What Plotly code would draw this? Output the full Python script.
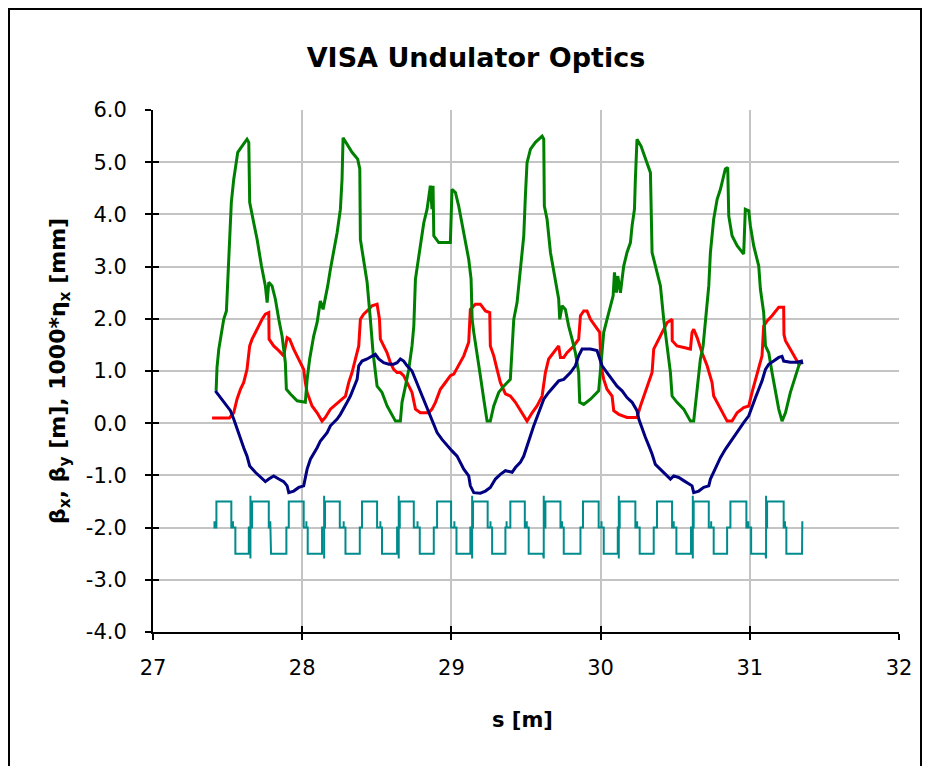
import plotly.graph_objects as go

# ---------------- data ----------------
s_green = [27.423, 27.429, 27.441, 27.458, 27.474, 27.492, 27.503, 27.512, 27.525, 27.541,
           27.552, 27.568, 27.590, 27.619, 27.630, 27.642, 27.648, 27.675, 27.698, 27.727,
           27.753, 27.765, 27.776, 27.798, 27.820, 27.843, 27.865, 27.887, 27.894, 27.921,
           27.966, 28.021, 28.033, 28.050, 28.077, 28.100, 28.111, 28.122, 28.140, 28.155,
           28.171, 28.189, 28.211, 28.234, 28.256, 28.267, 28.274, 28.301, 28.334, 28.372,
           28.386, 28.390, 28.412, 28.435, 28.457, 28.475, 28.502, 28.535, 28.569, 28.602,
           28.625, 28.658, 28.669, 28.692, 28.714, 28.736, 28.748, 28.759, 28.770, 28.792,
           28.815, 28.837, 28.859, 28.870, 28.877, 28.882, 28.915, 28.993, 29.004, 29.027,
           29.049, 29.071, 29.094, 29.116, 29.132, 29.139, 29.150, 29.172, 29.194, 29.217,
           29.239, 29.261, 29.284, 29.317, 29.351, 29.395, 29.407, 29.418, 29.440, 29.462,
           29.485, 29.496, 29.507, 29.530, 29.563, 29.608, 29.619, 29.623, 29.641, 29.664,
           29.697, 29.719, 29.726, 29.742, 29.764, 29.786, 29.809, 29.831, 29.853, 29.860,
           29.887, 29.932, 29.987, 29.999, 30.010, 30.021, 30.043, 30.066, 30.084, 30.093,
           30.106, 30.115, 30.133, 30.144, 30.155, 30.177, 30.200, 30.211, 30.227, 30.233,
           30.244, 30.271, 30.300, 30.334, 30.345, 30.367, 30.401, 30.423, 30.446, 30.468,
           30.479, 30.512, 30.557, 30.602, 30.624, 30.647, 30.669, 30.687, 30.702, 30.725,
           30.736, 30.758, 30.781, 30.803, 30.825, 30.836, 30.852, 30.859, 30.881, 30.915,
           30.959, 30.970, 30.993, 31.004, 31.026, 31.060, 31.071, 31.093, 31.105, 31.127,
           31.149, 31.172, 31.194, 31.216, 31.239, 31.272, 31.306, 31.335]
beta_green = [0.62, 1.07, 1.42, 1.74, 1.99, 2.15, 2.82, 3.33, 4.23, 4.67,
              4.93, 5.19, 5.28, 5.41, 5.44, 5.38, 4.23, 3.84, 3.52, 3.01,
              2.63, 2.31, 2.70, 2.63, 2.38, 1.99, 1.67, 1.16, 0.65, 0.56,
              0.43, 0.40, 0.84, 1.23, 1.67, 1.93, 2.12, 2.34, 2.18, 2.38,
              2.63, 2.95, 3.27, 3.65, 4.10, 4.67, 5.47, 5.34, 5.19, 5.06,
              4.87, 3.52, 3.14, 2.70, 1.99, 1.35, 0.71, 0.59, 0.33, 0.14,
              0.04, 0.04, 0.40, 0.71, 1.03, 1.48, 1.86, 2.76, 3.01, 3.40,
              3.84, 4.10, 4.55, 4.10, 4.55, 3.59, 3.46, 3.46, 4.48, 4.42,
              4.16, 3.84, 3.52, 3.14, 2.76, 1.99, 1.74, 1.35, 0.91, 0.46,
              0.04, 0.04, 0.33, 0.59, 0.71, 0.84, 1.35, 1.99, 2.31, 3.01,
              3.59, 4.36, 4.99, 5.25, 5.38, 5.50, 5.44, 4.16, 3.91, 3.27,
              2.76, 2.38, 1.99, 2.25, 2.18, 1.86, 1.61, 1.35, 0.97, 0.40,
              0.36, 0.46, 0.62, 1.03, 1.35, 1.74, 1.99, 2.25, 2.44, 2.89,
              2.50, 2.82, 2.50, 2.76, 3.01, 3.27, 3.46, 3.78, 4.10, 4.67,
              5.44, 5.31, 5.06, 4.80, 3.27, 3.01, 2.63, 1.99, 1.48, 0.97,
              0.52, 0.40, 0.27, 0.04, 0.04, 0.71, 1.23, 1.48, 1.99, 2.63,
              3.27, 3.91, 4.29, 4.48, 4.74, 4.87, 4.90, 3.97, 3.59, 3.40,
              3.24, 4.10, 4.07, 3.78, 3.40, 3.01, 2.57, 2.12, 1.48, 1.35,
              0.97, 0.59, 0.27, 0.04, 0.20, 0.59, 0.91, 1.16]

s_red = [27.396, 27.512, 27.541, 27.563, 27.586, 27.608, 27.630, 27.648, 27.664, 27.686,
         27.709, 27.731, 27.753, 27.776, 27.778, 27.809, 27.843, 27.876, 27.899, 27.916,
         27.943, 27.977, 28.010, 28.021, 28.033, 28.066, 28.100, 28.133, 28.155, 28.189,
         28.223, 28.256, 28.290, 28.312, 28.334, 28.357, 28.379, 28.390, 28.412, 28.446,
         28.468, 28.502, 28.518, 28.524, 28.546, 28.569, 28.591, 28.613, 28.636, 28.658,
         28.680, 28.703, 28.736, 28.759, 28.792, 28.848, 28.870, 28.893, 28.926, 28.960,
         28.993, 29.016, 29.049, 29.083, 29.116, 29.127, 29.161, 29.194, 29.228, 29.257,
         29.261, 29.284, 29.306, 29.328, 29.362, 29.395, 29.429, 29.462, 29.507, 29.541,
         29.574, 29.608, 29.630, 29.652, 29.686, 29.719, 29.731, 29.753, 29.775, 29.820,
         29.853, 29.865, 29.887, 29.909, 29.932, 29.965, 29.994, 30.003, 30.021, 30.043,
         30.077, 30.088, 30.122, 30.177, 30.244, 30.267, 30.300, 30.323, 30.345, 30.356,
         30.379, 30.412, 30.446, 30.479, 30.480, 30.512, 30.557, 30.602, 30.613, 30.624,
         30.647, 30.680, 30.714, 30.747, 30.758, 30.792, 30.825, 30.848, 30.881, 30.915,
         30.959, 30.993, 31.015, 31.038, 31.060, 31.082, 31.093, 31.116, 31.149, 31.194,
         31.227, 31.229, 31.239, 31.272, 31.306, 31.335]
beta_red = [0.10, 0.10, 0.20, 0.46, 0.65, 0.78, 1.03, 1.48, 1.61, 1.74,
            1.86, 1.99, 2.09, 2.12, 1.61, 1.48, 1.39, 1.29, 1.64, 1.61,
            1.42, 1.23, 1.03, 0.78, 0.59, 0.33, 0.20, 0.04, 0.11, 0.27,
            0.36, 0.43, 0.52, 0.78, 0.97, 1.23, 1.48, 1.99, 2.09, 2.18,
            2.25, 2.28, 1.99, 1.61, 1.48, 1.35, 1.16, 1.03, 0.97, 0.97,
            0.91, 0.78, 0.59, 0.27, 0.20, 0.20, 0.27, 0.40, 0.65, 0.78,
            0.91, 0.94, 1.10, 1.29, 1.55, 2.18, 2.28, 2.28, 2.15, 2.12,
            1.48, 1.29, 1.03, 0.78, 0.56, 0.52, 0.40, 0.24, 0.04, 0.20,
            0.33, 0.52, 0.97, 1.23, 1.35, 1.48, 1.26, 1.26, 1.35, 1.48,
            1.61, 2.06, 2.15, 2.15, 1.99, 1.86, 1.74, 1.10, 0.84, 0.65,
            0.52, 0.24, 0.17, 0.11, 0.11, 0.33, 0.59, 0.78, 0.97, 1.42,
            1.55, 1.74, 1.93, 1.99, 1.58, 1.48, 1.45, 1.42, 1.74, 1.80,
            1.64, 1.35, 1.10, 0.78, 0.52, 0.33, 0.14, 0.04, 0.04, 0.20,
            0.30, 0.33, 0.59, 0.84, 1.03, 1.29, 1.86, 1.96, 2.06, 2.22,
            2.22, 1.70, 1.58, 1.42, 1.26, 1.10]

s_blue = [27.418, 27.452, 27.485, 27.519, 27.541, 27.563, 27.586, 27.608, 27.630, 27.648,
          27.686, 27.720, 27.753, 27.776, 27.809, 27.843, 27.876, 27.899, 27.910, 27.943,
          27.977, 28.010, 28.021, 28.033, 28.055, 28.077, 28.100, 28.122, 28.144, 28.167,
          28.189, 28.211, 28.234, 28.256, 28.278, 28.301, 28.323, 28.345, 28.368, 28.379,
          28.401, 28.435, 28.457, 28.490, 28.513, 28.546, 28.580, 28.613, 28.636, 28.658,
          28.680, 28.703, 28.736, 28.759, 28.781, 28.803, 28.826, 28.859, 28.882, 28.904,
          28.937, 28.971, 29.004, 29.038, 29.060, 29.083, 29.116, 29.127, 29.150, 29.194,
          29.228, 29.261, 29.295, 29.328, 29.362, 29.407, 29.429, 29.462, 29.485, 29.507,
          29.530, 29.552, 29.585, 29.619, 29.652, 29.686, 29.719, 29.753, 29.798, 29.831,
          29.853, 29.876, 29.932, 29.976, 29.987, 30.010, 30.043, 30.077, 30.110, 30.144,
          30.177, 30.211, 30.244, 30.256, 30.278, 30.300, 30.323, 30.345, 30.367, 30.401,
          30.434, 30.468, 30.490, 30.524, 30.557, 30.591, 30.613, 30.624, 30.658, 30.691,
          30.725, 30.736, 30.758, 30.781, 30.803, 30.836, 30.859, 30.892, 30.926, 30.959,
          30.993, 31.015, 31.038, 31.060, 31.082, 31.105, 31.127, 31.160, 31.194, 31.216,
          31.227, 31.272, 31.317, 31.346, 31.350]
eta_blue = [0.62, 0.49, 0.36, 0.24, 0.08, -0.11, -0.31, -0.47, -0.63, -0.82,
            -0.94, -1.04, -1.12, -1.07, -1.01, -1.07, -1.12, -1.20, -1.33, -1.30,
            -1.23, -1.20, -1.01, -0.88, -0.69, -0.59, -0.47, -0.34, -0.27, -0.18,
            -0.05, 0.01, 0.08, 0.17, 0.27, 0.40, 0.52, 0.68, 0.84, 1.10,
            1.19, 1.23, 1.26, 1.32, 1.23, 1.16, 1.13, 1.13, 1.16, 1.23,
            1.19, 1.10, 1.00, 0.84, 0.68, 0.52, 0.36, 0.14, -0.05, -0.18,
            -0.31, -0.43, -0.53, -0.63, -0.75, -0.88, -1.01, -1.20, -1.33, -1.34,
            -1.30, -1.23, -1.07, -0.98, -0.91, -0.94, -0.85, -0.75, -0.63, -0.43,
            -0.24, -0.05, 0.20, 0.46, 0.59, 0.71, 0.81, 0.84, 0.97, 1.10,
            1.29, 1.42, 1.42, 1.39, 1.29, 1.10, 0.97, 0.84, 0.71, 0.62,
            0.49, 0.40, 0.24, 0.08, -0.11, -0.27, -0.43, -0.59, -0.79, -0.88,
            -0.98, -1.07, -1.01, -1.04, -1.10, -1.17, -1.20, -1.33, -1.30, -1.23,
            -1.20, -1.07, -0.94, -0.79, -0.66, -0.50, -0.40, -0.27, -0.11, 0.01,
            0.14, 0.33, 0.49, 0.65, 0.81, 1.03, 1.13, 1.19, 1.26, 1.28,
            1.19, 1.17, 1.17, 1.19, 1.13]

# quadrupole (teal) profile: start/end of each magnet and its level
quad_start = [27.425, 27.552, 27.664, 27.791, 27.910, 28.037, 28.153, 28.290,
              28.401, 28.535, 28.654, 28.788, 28.904, 29.034, 29.145, 29.273,
              29.395, 29.518, 29.630, 29.753, 29.882, 30.021, 30.128, 30.262,
              30.378, 30.508, 30.624, 30.758, 30.870, 31.009, 31.116, 31.245]
quad_end = [27.525, 27.642, 27.776, 27.894, 28.010, 28.133, 28.252, 28.386,
            28.502, 28.636, 28.748, 28.882, 28.998, 29.127, 29.243, 29.362,
            29.492, 29.614, 29.731, 29.865, 29.987, 30.115, 30.233, 30.356,
            30.479, 30.606, 30.725, 30.848, 30.977, 31.105, 31.227, 31.350]
quad_level = [-1.5, -2.5, -1.5, -2.5, -1.5, -2.5, -1.5, -2.5,
              -1.5, -2.5, -1.5, -2.5, -1.5, -2.5, -1.5, -2.5,
              -1.5, -2.5, -1.5, -2.5, -1.5, -2.5, -1.5, -2.5,
              -1.5, -2.5, -1.5, -2.5, -1.5, -2.5, -1.5, -2.5]
spike_s = [27.653, 28.147, 28.647, 29.139, 29.619, 30.122, 30.618, 31.109]
spike_lo, spike_hi = -2.59, -1.39
tick_s = [27.412, 27.536, 27.786, 28.028, 28.278, 28.524, 28.773, 29.020, 29.262,
          29.370, 29.505, 29.742, 30.006, 30.245, 30.490, 30.741, 30.990, 31.236, 31.352]
tick_top = -1.88
center_level = -2.0

x_ticks = [27, 28, 29, 30, 31, 32]
y_ticks = [-4, -3, -2, -1, 0, 1, 2, 3, 4, 5, 6]
y_tick_text = ["-4.0", "-3.0", "-2.0", "-1.0", "0.0", "1.0", "2.0", "3.0", "4.0", "5.0", "6.0"]

# ---------------- build the teal step trace from the lists ----------------
events = []
for a, b, lv in zip(quad_start, quad_end, quad_level):
    events.append((a, [(a, center_level), (a, lv), (b, lv), (b, center_level)]))
for sp in spike_s:
    events.append((sp, [(sp, center_level), (sp, spike_lo), (sp, spike_hi), (sp, center_level)]))
for t in tick_s:
    events.append((t, [(t, center_level), (t, tick_top), (t, center_level)]))
events.sort(key=lambda e: e[0])
teal_x, teal_y = [], []
for _, pts in events:
    for px, py in pts:
        teal_x.append(px)
        teal_y.append(py)

FONT = "DejaVu Sans"
W, H = 922, 758          # page body adds an 8 px margin around the figure
L, R, T, B = 145, 31, 102, 134
PW, PH = W - L - R, H - T - B

fig = go.Figure()
fig.add_trace(go.Scatter(x=teal_x, y=teal_y, mode="lines",
                         line=dict(color="#008c8c", width=2), name="quads"))
fig.add_trace(go.Scatter(x=s_red, y=beta_red, mode="lines",
                         line=dict(color="#ff0000", width=3), name="beta_y"))
fig.add_trace(go.Scatter(x=s_green, y=beta_green, mode="lines",
                         line=dict(color="#008000", width=3), name="beta_x"))
fig.add_trace(go.Scatter(x=s_blue, y=eta_blue, mode="lines",
                         line=dict(color="#000080", width=3), name="eta_x"))
# invisible trace carrying the overlay axes (inside tick marks)
fig.add_trace(go.Scatter(x=[27], y=[0], xaxis="x2", yaxis="y2", mode="markers",
                         marker=dict(opacity=0), showlegend=False, hoverinfo="skip"))

grid = "#c4c4c4"
fig.update_layout(
    width=W, height=H,
    margin=dict(l=L, r=R, t=T, b=B),
    paper_bgcolor="white", plot_bgcolor="white",
    showlegend=False,
    font=dict(family=FONT, color="black"),
    title=dict(text="VISA Undulator Optics", x=(476 - 8) / W, xref="container", xanchor="center",
               y=1 - (58 - 8) / H, yref="container", yanchor="middle",
               font=dict(family=FONT, size=27, weight="bold", color="black")),
    xaxis=dict(range=[27, 32], tickvals=x_ticks, ticktext=[str(v) for v in x_ticks],
               showgrid=True, gridcolor=grid, gridwidth=2,
               showline=True, linecolor="black", linewidth=2, mirror=False,
               ticks="outside", ticklen=6, tickwidth=2, tickcolor="black",
               tickfont=dict(family=FONT, size=21), ticklabelstandoff=10,
               zeroline=False),
    yaxis=dict(range=[-4, 6], tickvals=y_ticks, ticktext=y_tick_text,
               showgrid=True, gridcolor=grid, gridwidth=2,
               showline=True, linecolor="black", linewidth=2,
               ticks="outside", ticklen=6, tickwidth=2, tickcolor="black",
               tickfont=dict(family=FONT, size=21), ticklabelstandoff=14,
               zeroline=False),
    xaxis2=dict(range=[27, 32], overlaying="x", anchor="y", tickvals=x_ticks,
                ticks="inside", ticklen=6, tickwidth=2, tickcolor="black",
                showticklabels=False, showgrid=False, showline=False, zeroline=False,
                side="bottom"),
    yaxis2=dict(range=[-4, 6], overlaying="y", anchor="x", tickvals=y_ticks,
                ticks="inside", ticklen=6, tickwidth=2, tickcolor="black",
                showticklabels=False, showgrid=False, showline=False, zeroline=False,
                side="left"),
)

fig.add_annotation(text="s [m]", xref="paper", yref="paper",
                   x=(522 - 8 - L) / PW, y=(632 - 720) / PH, xanchor="center", yanchor="middle",
                   showarrow=False, font=dict(family=FONT, size=21, weight="bold"))
fig.add_annotation(text="β<sub>x</sub>, β<sub>y</sub> [m], 1000*η<sub>x</sub> [mm]",
                   xref="paper", yref="paper", textangle=-90,
                   x=(59 - 8 - L) / PW, y=0.5, xanchor="center", yanchor="middle",
                   showarrow=False, font=dict(family=FONT, size=22, weight="bold"))

# outer frame of the chart
fig.add_shape(type="rect", xref="paper", yref="paper",
              x0=(1 - L) / PW, x1=(913 - L) / PW, y0=-(B + 40) / PH, y1=(PH + T - 1) / PH,
              line=dict(color="black", width=2), fillcolor="rgba(0,0,0,0)", layer="above")

fig.write_html("out.html")
